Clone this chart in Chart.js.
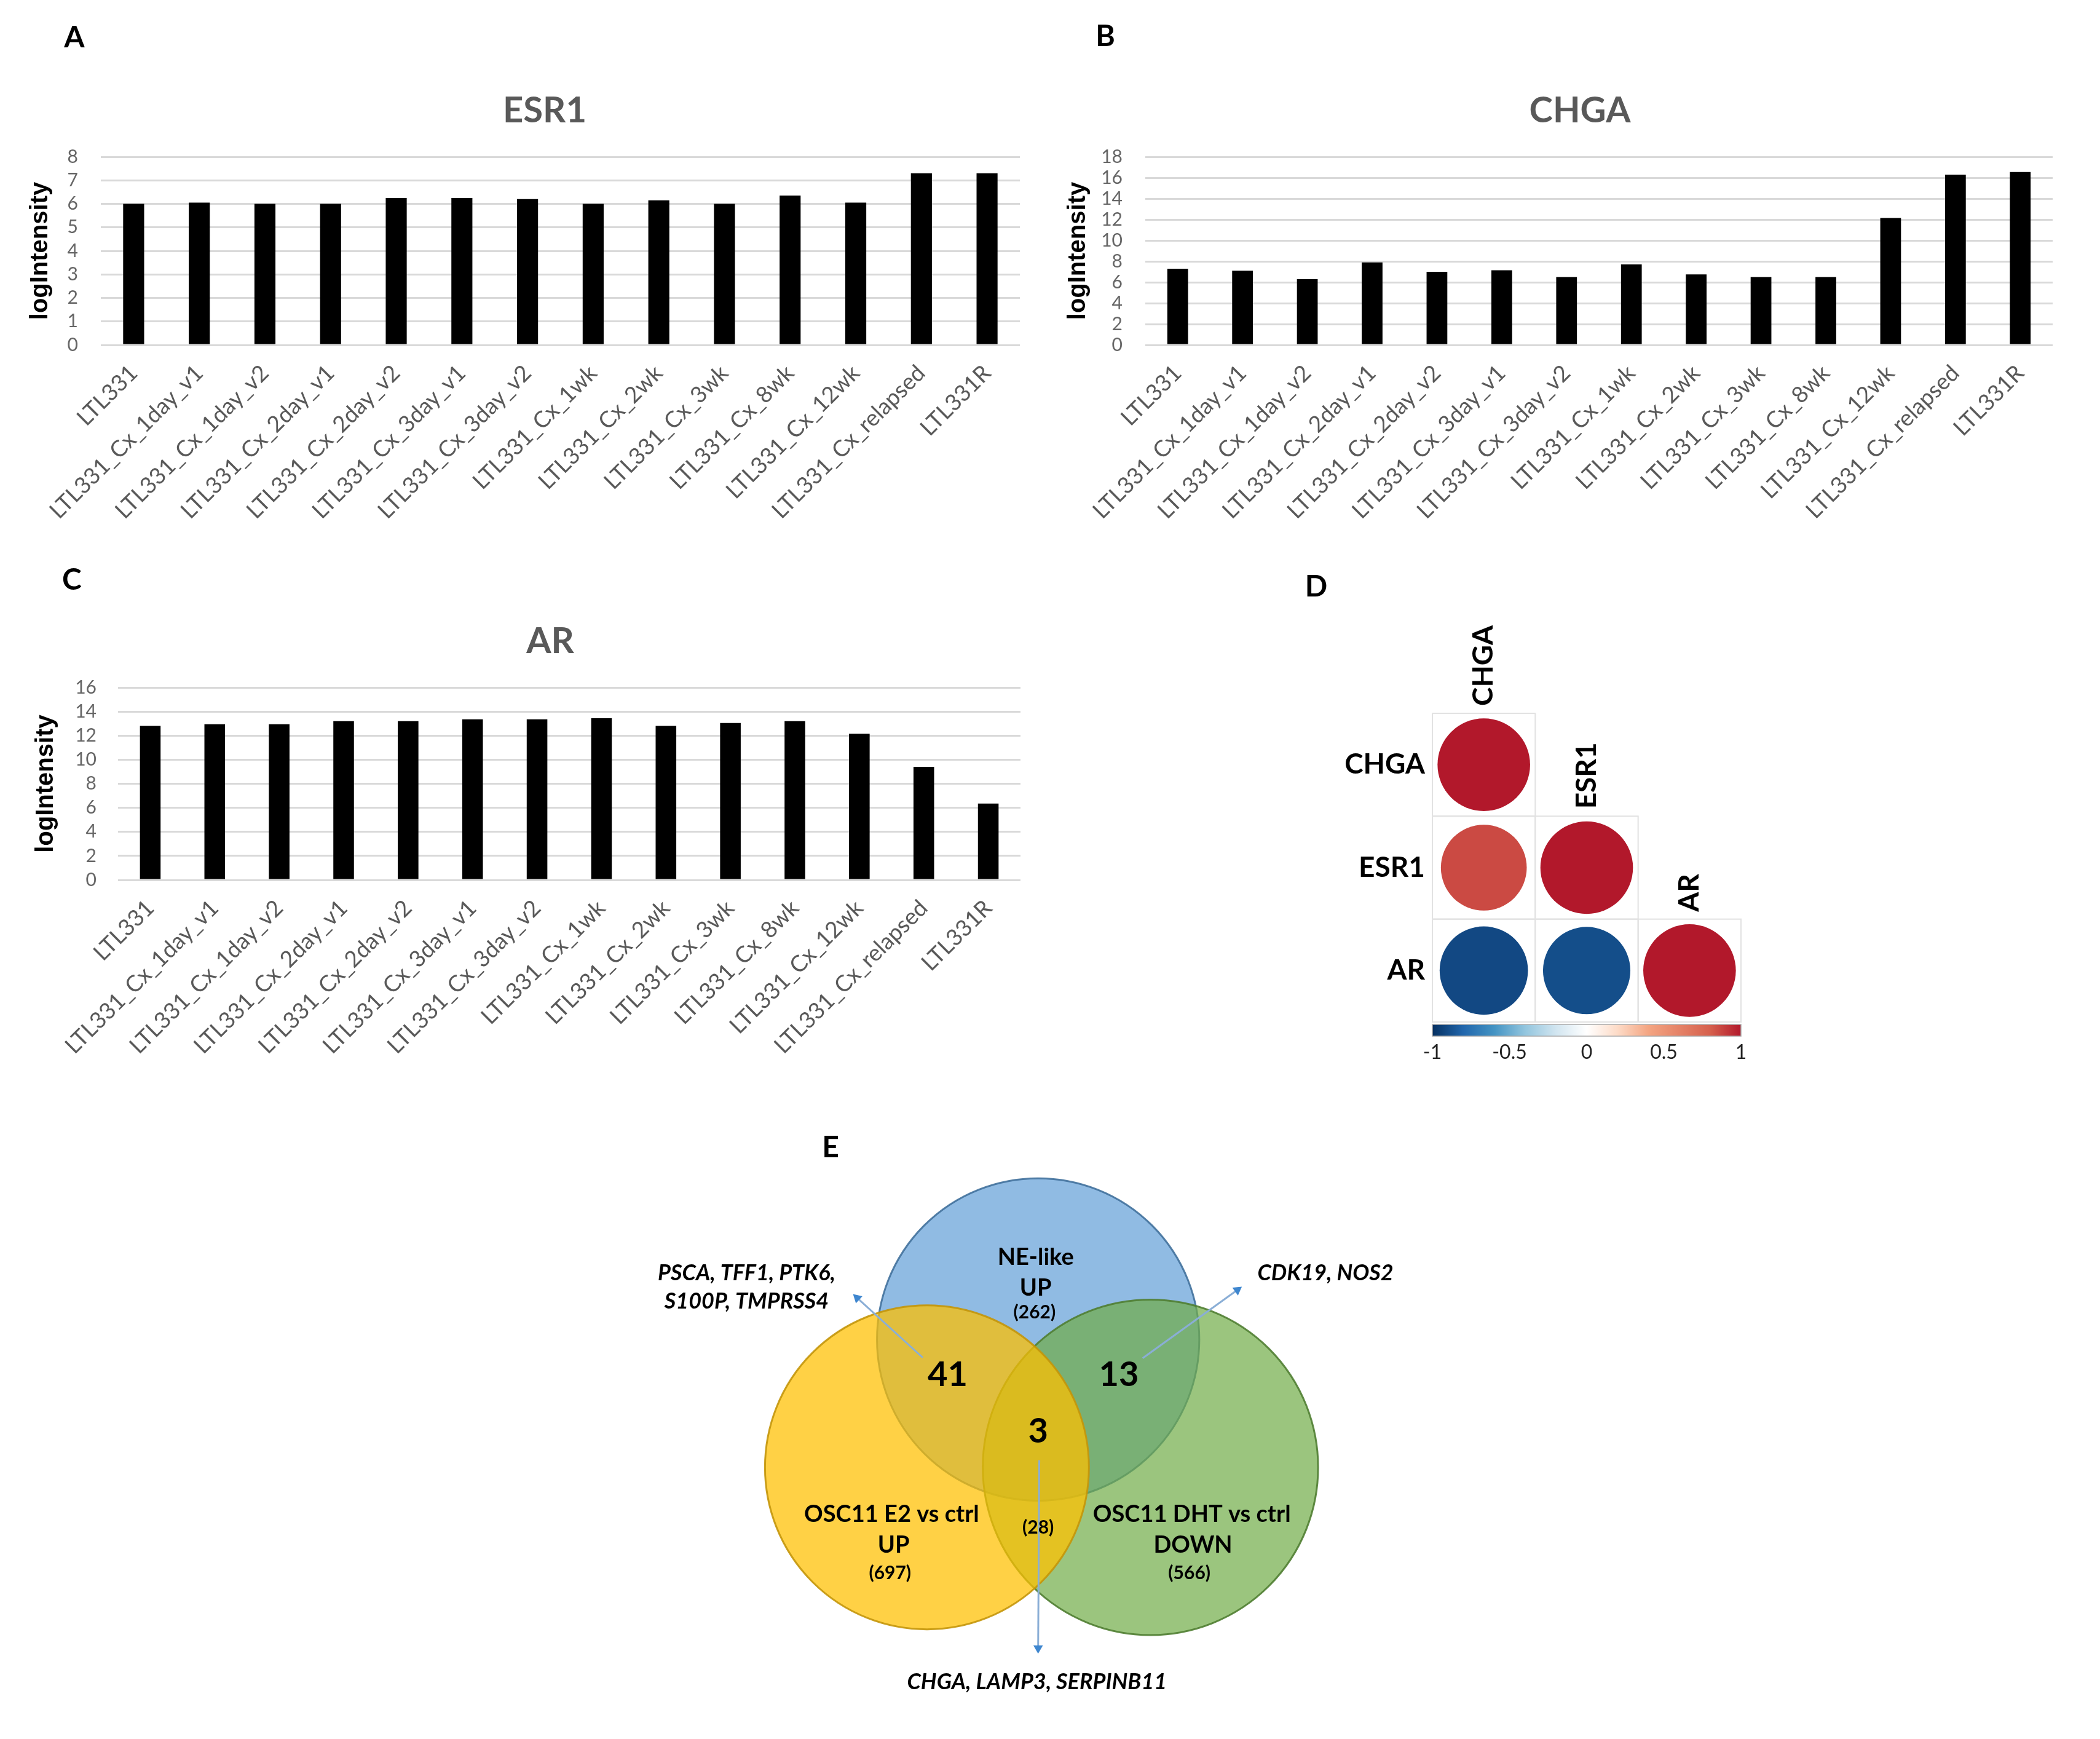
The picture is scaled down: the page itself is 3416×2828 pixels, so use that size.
<!DOCTYPE html>
<html>
<head>
<meta charset="utf-8">
<script src="https://cdn.jsdelivr.net/npm/chart.js@4.4.0/dist/chart.umd.min.js"></script>
<style>
  body { margin: 0; background: #fff; }
  #page { position: relative; width: 3416px; height: 2828px; background: #fff; }
  canvas { position: absolute; }
</style>
</head>
<body>
<div id="page">
  <canvas id="esr1" width="1720" height="880" style="left:0;top:0"></canvas>
  <canvas id="chga" width="1696" height="880" style="left:1720px;top:0"></canvas>
  <canvas id="ar" width="1720" height="880" style="left:0;top:880px"></canvas>
  <canvas id="corr" width="1000" height="950" style="left:2000px;top:900px"></canvas>
  <canvas id="venn" width="1500" height="1000" style="left:1000px;top:1800px"></canvas>
</div>
<script>
// data
const samples = ['LTL331', 'LTL331_Cx_1day_v1', 'LTL331_Cx_1day_v2', 'LTL331_Cx_2day_v1',
    'LTL331_Cx_2day_v2', 'LTL331_Cx_3day_v1', 'LTL331_Cx_3day_v2', 'LTL331_Cx_1wk',
    'LTL331_Cx_2wk', 'LTL331_Cx_3wk', 'LTL331_Cx_8wk', 'LTL331_Cx_12wk',
    'LTL331_Cx_relapsed', 'LTL331R'];
const esr1 = [6.0, 6.05, 6.0, 6.0, 6.25, 6.25, 6.2, 6.0, 6.15, 6.0, 6.35, 6.05, 7.3, 7.3];
const chga = [7.3, 7.1, 6.3, 7.9, 7.0, 7.15, 6.5, 7.7, 6.75, 6.5, 6.5, 12.15, 16.3, 16.55];
const ar = [12.8, 12.95, 12.95, 13.2, 13.2, 13.35, 13.35, 13.45, 12.8, 13.05, 13.2, 12.15, 9.4, 6.35];

const genes = ['CHGA', 'ESR1', 'AR'];
const corr = [[1], [0.86, 1], [-0.91, -0.89, 1]];
const corrTicks = [-1, -0.5, 0, 0.5, 1];

const vennSets = [['NE-like', 'UP'], ['OSC11 E2 vs ctrl', 'UP'], ['OSC11 DHT vs ctrl', 'DOWN']];
const vennTotals = [262, 697, 566];
const overlapCounts = [41, 13, 3];   // NE+E2, NE+DHT, all three
const e2DhtTotal = 28;
const overlapGenes = [['PSCA, TFF1, PTK6,', 'S100P, TMPRSS4'], ['CDK19, NOS2'], ['CHGA, LAMP3, SERPINB11']];

// corrplot palette (RdBu)
const paletteStops = [[-1, '#053061'], [-0.8, '#2166AC'], [-0.6, '#4393C3'], [-0.4, '#92C5DE'],
    [-0.2, '#D1E5F0'], [0, '#FFFFFF'], [0.2, '#FDDBC7'], [0.4, '#F4A582'], [0.8, '#D6604D'], [1, '#B2182B']];

function hex(c) { return [1, 3, 5].map(i => parseInt(c.substr(i, 2), 16)); }
function corrColor(v) {
    for (let i = 1; i < paletteStops.length; i++) {
        const [v1, c1] = paletteStops[i];
        const [v0, c0] = paletteStops[i - 1];
        if (v <= v1) {
            const t = (v - v0) / (v1 - v0);
            const a = hex(c0), b = hex(c1);
            return 'rgb(' + a.map((x, k) => Math.round(x + (b[k] - x) * t)).join(',') + ')';
        }
    }
    return paletteStops[paletteStops.length - 1][1];
}

const notesPlugin = {
    id: 'notes',
    afterDraw(chart, args, opts) {
        const { ctx, scales } = chart;
        (opts.items || []).forEach(it => {
            let x = it.x, y = it.y;
            if (it.data) {
                x = scales.x.getPixelForValue(it.x);
                y = scales.y.getPixelForValue(it.y);
            }
            ctx.save();
            ctx.translate(x, y);
            if (it.rotate) ctx.rotate(it.rotate);
            ctx.font = it.font;
            ctx.fillStyle = it.color || '#000';
            ctx.textAlign = it.align || 'center';
            ctx.textBaseline = 'middle';
            ctx.fillText(it.text, 0, 0);
            ctx.restore();
        });
    }
};

const letterFont = 'bold 48px Lato';
const titleFont = 'bold 58px Lato';

function barChart(id, values, o) {
    return new Chart(document.getElementById(id), {
        type: 'bar',
        data: {
            labels: samples,
            datasets: [{ data: values, backgroundColor: '#000', borderWidth: 0,
                barPercentage: 0.32, categoryPercentage: 1 }]
        },
        options: {
            responsive: false,
            animation: false,
            events: [],
            layout: { padding: o.pad },
            plugins: {
                legend: { display: false },
                tooltip: { enabled: false },
                notes: { items: [
                    { text: o.letter, x: o.letterAt[0], y: o.letterAt[1], font: letterFont },
                    { text: o.title, x: o.titleAt[0], y: o.titleAt[1], font: titleFont, color: '#595959' }
                ] }
            },
            scales: {
                x: {
                    grid: { display: false },
                    border: { display: false },
                    ticks: { color: '#595959', font: { family: 'Lato', size: 37 },
                        minRotation: 45, maxRotation: 45, autoSkip: false, padding: 16 },
                    afterFit: s => { s.height = 300; }
                },
                y: {
                    min: 0, max: o.max,
                    ticks: { stepSize: o.step, autoSkip: false, color: '#666',
                        font: { family: 'Lato', size: 30 }, padding: o.tickPad },
                    grid: { color: '#D9D9D9', lineWidth: 3, drawTicks: false },
                    border: { display: false },
                    title: { display: true, text: 'logIntensity', color: '#000', padding: 0,
                        font: { family: 'Liberation Sans', weight: 'bold', size: 40 } },
                    afterFit: s => { s.width = o.yWidth; }
                }
            }
        },
        plugins: [notesPlugin]
    });
}

barChart('esr1', esr1, { letter: 'A', letterAt: [121, 62], title: 'ESR1', titleAt: [886, 180],
    max: 8, step: 1, tickPad: 37, yWidth: 122, pad: { left: 42, right: 61, top: 255, bottom: 19 } });
barChart('chga', chga, { letter: 'B', letterAt: [78, 60], title: 'CHGA', titleAt: [850, 180],
    max: 18, step: 2, tickPad: 37, yWidth: 133, pad: { left: 10, right: 77, top: 255, bottom: 19 } });
barChart('ar', ar, { letter: 'C', letterAt: [117, 64], title: 'AR', titleAt: [895, 163],
    max: 16, step: 2, tickPad: 35, yWidth: 141, pad: { left: 51, right: 60, top: 238, bottom: 29 } });

// D: correlation circles
const corrPoints = [];
corr.forEach((row, i) => row.forEach((v, j) => corrPoints.push({ x: j + 1, y: i + 1, v: v })));

function cellPx(chart) {
    const s = chart.scales.x;
    return s.getPixelForValue(1.5) - s.getPixelForValue(0.5);
}

const corrPlugin = {
    id: 'corrDecor',
    beforeDatasetsDraw(chart) {
        const { ctx, scales: { x, y } } = chart;
        const c = cellPx(chart);
        ctx.save();
        ctx.strokeStyle = '#E2E2E2';
        ctx.lineWidth = 2;
        corr.forEach((row, i) => row.forEach((v, j) => {
            ctx.strokeRect(x.getPixelForValue(j + 0.5), y.getPixelForValue(i + 0.5), c, c);
        }));
        ctx.restore();
    },
    afterDraw(chart) {
        const { ctx, chartArea, scales: { x, y } } = chart;
        ctx.save();
        ctx.fillStyle = '#000';
        ctx.font = 'bold 46px Lato';
        ctx.textBaseline = 'middle';
        genes.forEach((g, i) => {
            ctx.textAlign = 'right';
            ctx.fillText(g, x.getPixelForValue(0.5) - 12, y.getPixelForValue(i + 1));
            ctx.save();
            ctx.translate(x.getPixelForValue(i + 1), y.getPixelForValue(i + 0.5) - 12);
            ctx.rotate(-Math.PI / 2);
            ctx.textAlign = 'left';
            ctx.fillText(g, 0, 0);
            ctx.restore();
        });
        // colour key
        const top = chartArea.bottom + 4, h = 19;
        const grad = ctx.createLinearGradient(chartArea.left, 0, chartArea.right, 0);
        paletteStops.forEach(([v, col]) => grad.addColorStop((v + 1) / 2, col));
        ctx.fillStyle = grad;
        ctx.fillRect(chartArea.left, top, chartArea.right - chartArea.left, h);
        ctx.strokeStyle = '#AAAAAA';
        ctx.lineWidth = 1.5;
        ctx.strokeRect(chartArea.left, top, chartArea.right - chartArea.left, h);
        ctx.fillStyle = '#222';
        ctx.font = '32px Lato';
        ctx.textAlign = 'center';
        corrTicks.forEach(t => {
            const px = chartArea.left + (t + 1) / 2 * (chartArea.right - chartArea.left);
            ctx.fillText(String(t), px, top + h + 27);
        });
        ctx.restore();
    }
};

new Chart(document.getElementById('corr'), {
    type: 'scatter',
    data: {
        datasets: [{
            data: corrPoints,
            showLine: false,
            clip: false,
            pointStyle: 'circle',
            pointBackgroundColor: c => corrColor(c.raw ? c.raw.v : 0),
            pointBorderWidth: 0,
            pointRadius: c => c.raw ? cellPx(c.chart) * 0.45 * Math.sqrt(Math.abs(c.raw.v)) : 0
        }]
    },
    options: {
        responsive: false,
        animation: false,
        events: [],
        layout: { padding: { left: 330, right: 168, top: 260, bottom: 188 } },
        plugins: {
            legend: { display: false },
            tooltip: { enabled: false },
            notes: { items: [{ text: 'D', x: 141, y: 55, font: letterFont }] }
        },
        scales: {
            x: { type: 'linear', min: 0.5, max: 3.5, display: false },
            y: { type: 'linear', min: 0.5, max: 3.5, reverse: true, display: false }
        }
    },
    plugins: [corrPlugin, notesPlugin]
});

// E: Venn diagram, in units of one circle radius
const vennCenters = [[0, 0], [-0.683, -0.79], [0.69, -0.79]];
const vennRadii = [0.99, 0.995, 1.03];

function unitRadius(c, r) {
    const s = c.chart.scales.x;
    return s.getPixelForValue(r) - s.getPixelForValue(0);
}

function circleSet(i, fill, stroke, order) {
    return {
        label: vennSets[i].join(' '),
        data: [{ x: vennCenters[i][0], y: vennCenters[i][1] }],
        showLine: false,
        clip: false,
        pointStyle: 'circle',
        pointBackgroundColor: fill,
        pointBorderColor: stroke,
        pointBorderWidth: 3,
        pointRadius: c => unitRadius(c, vennRadii[i]),
        order: order
    };
}

function arrow(from, to) {
    const rot = Math.atan2(to[0] - from[0], to[1] - from[1]) * 180 / Math.PI;
    return {
        type: 'line',
        data: [{ x: from[0], y: from[1] }, { x: to[0], y: to[1] }],
        borderColor: '#8AAED6',
        borderWidth: 3,
        clip: false,
        pointStyle: 'triangle',
        pointRadius: [0, 9],
        pointRotation: rot,
        pointBackgroundColor: '#3E86CF',
        pointBorderColor: '#3E86CF',
        pointBorderWidth: 0,
        order: 0
    };
}

const setFont = 'bold 38px Lato';
const totFont = 'bold 30px Lato';
const cntFont = 'bold 56px Lato';
const geneFont = 'italic bold 36px Lato';

const vennNotes = [
    { text: vennSets[0][0], x: -0.015, y: 0.507, font: setFont },
    { text: vennSets[0][1], x: -0.015, y: 0.317, font: setFont },
    { text: '(' + vennTotals[0] + ')', x: -0.022, y: 0.168, font: totFont },
    { text: vennSets[1][0], x: -0.9, y: -1.082, font: setFont },
    { text: vennSets[1][1], x: -0.888, y: -1.272, font: setFont },
    { text: '(' + vennTotals[1] + ')', x: -0.91, y: -1.444, font: totFont },
    { text: vennSets[2][0], x: 0.944, y: -1.082, font: setFont },
    { text: vennSets[2][1], x: 0.951, y: -1.272, font: setFont },
    { text: '(' + vennTotals[2] + ')', x: 0.929, y: -1.444, font: totFont },
    { text: String(overlapCounts[0]), x: -0.556, y: -0.22, font: cntFont },
    { text: String(overlapCounts[1]), x: 0.496, y: -0.22, font: cntFont },
    { text: String(overlapCounts[2]), x: 0, y: -0.567, font: cntFont },
    { text: '(' + e2DhtTotal + ')', x: 0, y: -1.164, font: totFont },
    { text: overlapGenes[0][0], x: -1.791, y: 0.41, font: geneFont },
    { text: overlapGenes[0][1], x: -1.791, y: 0.235, font: geneFont },
    { text: overlapGenes[1][0], x: 1.765, y: 0.41, font: geneFont },
    { text: overlapGenes[2][0], x: -0.007, y: -2.116, font: geneFont }
].map(n => Object.assign({ data: true }, n));
vennNotes.push({ text: 'E', x: 351, y: 67, font: letterFont });

new Chart(document.getElementById('venn'), {
    type: 'scatter',
    data: {
        datasets: [
            arrow([-0.709, -0.112], [-1.112, 0.257]),
            arrow([0.642, -0.116], [1.224, 0.306]),
            arrow([0.007, -0.746], [0, -1.907]),
            circleSet(1, 'rgba(255,192,0,0.73)', 'rgba(196,150,10,0.9)', 1),
            circleSet(2, 'rgba(112,173,71,0.7)', 'rgba(80,126,50,0.9)', 2),
            circleSet(0, 'rgba(91,155,213,0.68)', 'rgba(65,113,156,0.9)', 3)
        ]
    },
    options: {
        responsive: false,
        animation: false,
        events: [],
        layout: { padding: 0 },
        plugins: {
            legend: { display: false },
            tooltip: { enabled: false },
            notes: { items: vennNotes }
        },
        scales: {
            x: { type: 'linear', min: -2.567, max: 3.03, display: false },
            y: { type: 'linear', min: -2.328, max: 1.403, display: false }
        }
    },
    plugins: [notesPlugin]
});
</script>
</body>
</html>
